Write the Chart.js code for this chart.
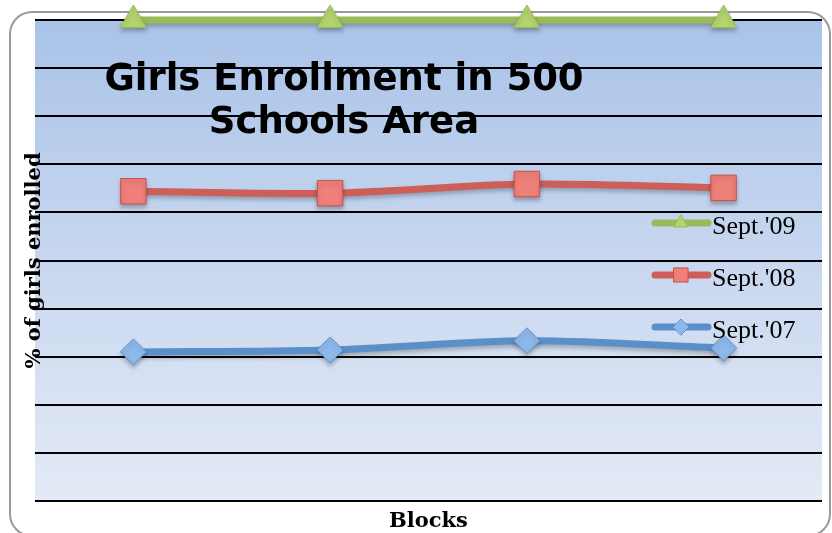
<!DOCTYPE html>
<html>
<head>
<meta charset="utf-8">
<script src="https://cdn.jsdelivr.net/npm/chart.js@4"></script>
<style>
  html, body { margin: 0; padding: 0; background: #fff; }
  #wrap { width: 832px; height: 533px; position: relative; }
</style>
</head>
<body>
<div id="wrap"><canvas id="chart" width="832" height="533"></canvas></div>
<script>
// blocks along the x axis (names are not printed on the chart)
const blocks = ['Block 1', 'Block 2', 'Block 3', 'Block 4'];

// % of girls enrolled per block
const sept09 = [100, 100, 100, 100];
const sept08 = [64.4, 64.0, 65.9, 65.1];
const sept07 = [31.0, 31.4, 33.3, 31.8];

const seriesNames = ["Sept.'09", "Sept.'08", "Sept.'07"];

const titleLines = ['Girls Enrollment in 500', 'Schools Area'];
const yTitle = '% of girls enrolled';
const xTitle = 'Blocks';

// plot background, outer frame, title, axis titles and the in-plot legend
const decorations = {
    id: 'decorations',
    beforeDraw(chart) {
        const { ctx, chartArea: a } = chart;
        ctx.save();
        // rounded frame around the whole chart
        ctx.strokeStyle = '#9a9a9a';
        ctx.lineWidth = 2;
        ctx.beginPath();
        ctx.roundRect(10, 12, 820, 524, 22);
        ctx.stroke();
        // blue gradient plot area
        const g = ctx.createLinearGradient(0, a.top, 0, a.bottom);
        g.addColorStop(0, '#a9c3e8');
        g.addColorStop(0.5, '#c8d7ef');
        g.addColorStop(1, '#e4eaf6');
        ctx.fillStyle = g;
        ctx.fillRect(a.left, a.top, a.right - a.left, a.bottom - a.top);
        ctx.restore();
    },
    afterDraw(chart) {
        const { ctx, chartArea: a } = chart;
        ctx.save();
        ctx.fillStyle = '#000';
        ctx.textAlign = 'center';
        ctx.textBaseline = 'alphabetic';

        ctx.font = 'bold 37px "DejaVu Sans"';
        ctx.fillText(titleLines[0], 344, 90);
        ctx.fillText(titleLines[1], 344, 133);

        ctx.font = 'bold 21px "DejaVu Serif"';
        ctx.fillText(xTitle, (a.left + a.right) / 2, 527);

        ctx.save();
        ctx.translate(40, (a.top + a.bottom) / 2);
        ctx.rotate(-Math.PI / 2);
        ctx.fillText(yTitle, 0, 0);
        ctx.restore();

        // legend entries drawn from the dataset styles
        const rows = [223, 275, 327];
        ctx.textBaseline = 'middle';
        chart.data.datasets.forEach((ds, i) => {
            const y = rows[i];
            ctx.strokeStyle = ds.borderColor;
            ctx.lineWidth = 7;
            ctx.lineCap = 'round';
            ctx.beginPath();
            ctx.moveTo(655, y);
            ctx.lineTo(708, y);
            ctx.stroke();
            ctx.fillStyle = ds.pointBackgroundColor;
            ctx.strokeStyle = ds.pointBorderColor;
            ctx.lineWidth = 1;
            Chart.helpers.drawPoint(ctx, {
                pointStyle: ds.pointStyle,
                radius: ds.pointStyle === 'rect' ? 10 : 8,
                borderWidth: 1
            }, 681, y);
            ctx.fillStyle = '#000';
            ctx.textAlign = 'left';
            ctx.font = '26px "Liberation Serif"';
            ctx.fillText(ds.label, 712, y + 4);
        });
        ctx.restore();
    }
};

// soft drop shadow under the markers
const markerShadow = {
    id: 'markerShadow',
    beforeDatasetDraw(chart) {
        const ctx = chart.ctx;
        ctx.save();
        ctx.shadowColor = 'rgba(0,0,0,0.25)';
        ctx.shadowBlur = 4;
        ctx.shadowOffsetY = 3;
    },
    afterDatasetDraw(chart) {
        chart.ctx.restore();
    }
};

new Chart(document.getElementById('chart'), {
    type: 'line',
    data: {
        labels: blocks,
        datasets: [
            {
                label: seriesNames[0],
                data: sept09,
                borderColor: '#9bbb59',
                borderWidth: 7,
                pointStyle: 'triangle',
                pointRadius: 15,
                pointBackgroundColor: '#b3d46e',
                pointBorderColor: '#9bbb59',
                pointBorderWidth: 1,
                tension: 0.3,
                clip: false
            },
            {
                label: seriesNames[1],
                data: sept08,
                borderColor: '#cd5f58',
                borderWidth: 7,
                pointStyle: 'rect',
                pointRadius: 18,
                pointBackgroundColor: '#ee7f79',
                pointBorderColor: '#c9524c',
                pointBorderWidth: 1,
                tension: 0.3,
                clip: false
            },
            {
                label: seriesNames[2],
                data: sept07,
                borderColor: '#5a8fca',
                borderWidth: 7,
                pointStyle: 'rectRot',
                pointRadius: 13,
                pointBackgroundColor: '#8cb8ea',
                pointBorderColor: '#5f93cf',
                pointBorderWidth: 1,
                tension: 0.3,
                clip: false
            }
        ]
    },
    options: {
        responsive: false,
        animation: false,
        layout: { autoPadding: false, padding: { left: 35, top: 20, right: 10, bottom: 32 } },
        plugins: {
            legend: { display: false },
            title: { display: false },
            tooltip: { enabled: false }
        },
        scales: {
            x: { display: false, offset: true },
            y: {
                min: 0,
                max: 100,
                ticks: { display: false, stepSize: 10 },
                grid: { color: '#000', lineWidth: 2, drawTicks: false },
                border: { display: false }
            }
        }
    },
    plugins: [decorations, markerShadow]
});
</script>
</body>
</html>
